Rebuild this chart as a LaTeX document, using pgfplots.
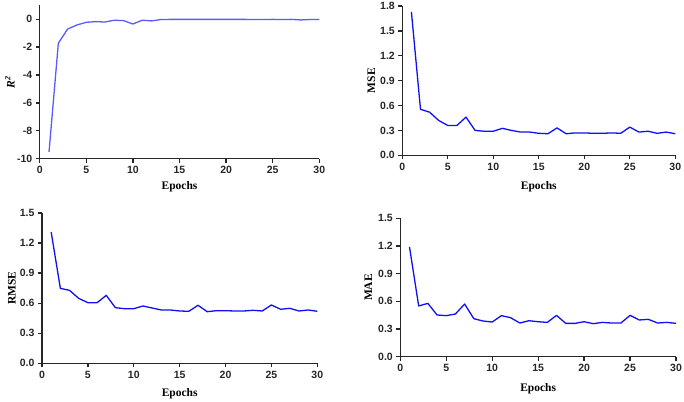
\documentclass[border=0pt]{standalone}
\usepackage{fontspec}
\setmainfont{Liberation Sans}
\newfontfamily\serifbf{Liberation Serif}
\usepackage{pgfplots}
\pgfplotsset{compat=1.18}

\definecolor{axisgray}{HTML}{262626}
\definecolor{lightblue}{HTML}{5A5AFF}
\definecolor{pureblue}{HTML}{1010F5}

\pgfplotsset{
  metric/.style={
    scale only axis,
    axis lines=left,
    axis line style={axisgray, line width=1.4bp, -},
    every tick/.style={axisgray, line width=1.3bp},
    tick align=outside,
    major tick length=4bp,
    tick pos=left,
    minor tick num=0,
    xmin=0, xmax=30,
    xtick={0,5,...,30},
    /pgf/number format/assume math mode=true,
    xticklabel={\textbf{\pgfmathprintnumber[fixed,precision=0]{\tick}}},
    ticklabel style={font=\fontsize{10.5bp}{12bp}\selectfont, text=axisgray},
    label style={font=\fontsize{11.5bp}{13bp}\selectfont\serifbf\bfseries, black},
    xlabel={Epochs},
    clip=false,
  },
  onedec/.style={
    yticklabel={\textbf{\pgfmathprintnumber[fixed,fixed zerofill,precision=1]{\tick}}},
  },
  curve/.style={line width=1.3bp, line join=round},
}

\begin{document}
\begin{tikzpicture}
\path[use as bounding box] (0bp,0bp) rectangle (684bp,402bp);

% R^2
\begin{axis}[metric,
  at={(39.7bp,243.3bp)}, anchor=south west,
  width=279.6bp, height=153.4bp,
  ymin=-10, ymax=1, ytick={-10,-8,...,0},
  yticklabel={\textbf{\pgfmathprintnumber[fixed,precision=0]{\tick}}},
  ylabel={\itshape R\textsuperscript{2}},
  ylabel style={at={(axis description cs:-0.107,0.5)}, anchor=center},
  xlabel style={at={(axis description cs:0.5,-0.185)}, anchor=center},
]
\addplot[curve, lightblue] coordinates {
(1,-9.52) (2,-1.72) (3,-0.70) (4,-0.41) (5,-0.22) (6,-0.17) (7,-0.20) (8,-0.07)
(9,-0.10) (10,-0.34) (11,-0.07) (12,-0.12) (13,-0.02) (14,-0.01) (15,-0.01)
(16,-0.01) (17,-0.01) (18,-0.01) (19,-0.01) (20,-0.01) (21,-0.01) (22,-0.01)
(23,-0.02) (24,-0.02) (25,-0.01) (26,-0.02) (27,-0.01) (28,-0.05) (29,-0.02) (30,-0.02)
};
\end{axis}

% MSE
\begin{axis}[metric, onedec,
  at={(402.3bp,246.7bp)}, anchor=south west,
  width=273bp, height=149.3bp,
  ymin=0, ymax=1.8, ytick={0,0.3,...,1.8},
  ylabel={MSE},
  ylabel style={at={(axis description cs:-0.1136,0.5)}, anchor=center},
  xlabel style={at={(axis description cs:0.5,-0.21)}, anchor=center},
]
\addplot[curve, pureblue] coordinates {
(1,1.73) (2,0.554) (3,0.52) (4,0.42) (5,0.36) (6,0.36) (7,0.46) (8,0.30)
(9,0.29) (10,0.29) (11,0.325) (12,0.30) (13,0.28) (14,0.28) (15,0.265)
(16,0.26) (17,0.33) (18,0.26) (19,0.27) (20,0.27) (21,0.265) (22,0.265)
(23,0.27) (24,0.265) (25,0.34) (26,0.28) (27,0.29) (28,0.265) (29,0.28) (30,0.26)
};
\end{axis}

% RMSE
\begin{axis}[metric, onedec,
  at={(42bp,38.7bp)}, anchor=south west,
  width=275.3bp, height=150.3bp,
  ymin=0, ymax=1.5, ytick={0,0.3,...,1.5},
  ylabel={RMSE},
  ylabel style={at={(axis description cs:-0.109,0.5)}, anchor=center},
  xlabel style={at={(axis description cs:0.5,-0.202)}, anchor=center},
]
\addplot[curve, pureblue] coordinates {
(1,1.31) (2,0.748) (3,0.728) (4,0.648) (5,0.605) (6,0.605) (7,0.678) (8,0.555)
(9,0.545) (10,0.545) (11,0.572) (12,0.552) (13,0.532) (14,0.532) (15,0.522)
(16,0.519) (17,0.579) (18,0.515) (19,0.525) (20,0.525) (21,0.522) (22,0.522)
(23,0.529) (24,0.522) (25,0.582) (26,0.539) (27,0.549) (28,0.522) (29,0.532) (30,0.519)
};
\end{axis}

% MAE
\begin{axis}[metric, onedec,
  at={(400.3bp,45.3bp)}, anchor=south west,
  width=275.7bp, height=138.4bp,
  ymin=0, ymax=1.5, ytick={0,0.3,...,1.5},
  ylabel={MAE},
  ylabel style={at={(axis description cs:-0.116,0.5)}, anchor=center},
  xlabel style={at={(axis description cs:0.5,-0.228)}, anchor=center},
]
\addplot[curve, pureblue] coordinates {
(1,1.19) (2,0.55) (3,0.578) (4,0.452) (5,0.445) (6,0.463) (7,0.571) (8,0.412)
(9,0.387) (10,0.376) (11,0.445) (12,0.423) (13,0.365) (14,0.39) (15,0.379)
(16,0.372) (17,0.448) (18,0.361) (19,0.361) (20,0.379) (21,0.358) (22,0.372)
(23,0.365) (24,0.365) (25,0.448) (26,0.398) (27,0.405) (28,0.365) (29,0.372) (30,0.361)
};
\end{axis}
\end{tikzpicture}
\end{document}
